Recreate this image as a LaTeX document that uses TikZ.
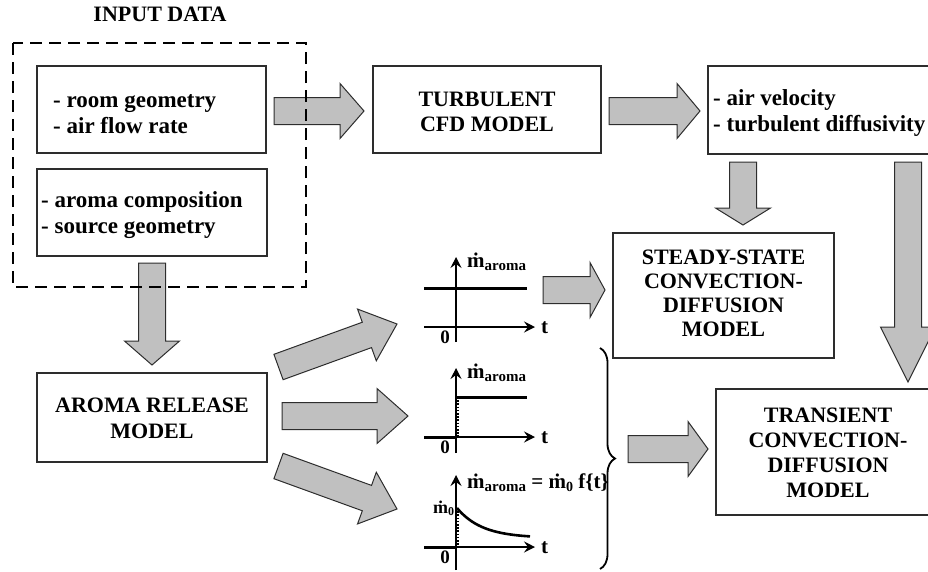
\documentclass[tikz,border=0pt]{standalone}
\usepackage{fontspec}
\setmainfont{Liberation Serif}
\usetikzlibrary{calc,decorations.pathreplacing,arrows.meta}
\definecolor{arrowgray}{RGB}{192,192,192}
\definecolor{edgegray}{RGB}{45,45,45}
\newcommand{\mdot}{\.{m}}
\begin{document}
\begin{tikzpicture}[x=1pt,y=-1pt,
  box/.style={draw=edgegray, line width=1.1pt, fill=white, inner sep=0pt},
  lbl/.style={font=\fontsize{22}{25}\selectfont\bfseries, inner sep=0pt},
  lbll/.style={lbl, align=left, font=\fontsize{23}{26}\selectfont\bfseries},
  lblc/.style={lbl, align=center},
  glbl/.style={font=\fontsize{21}{21}\selectfont\bfseries, inner sep=0pt, anchor=base west},
  axis/.style={line width=1.3pt, -{Stealth[length=11pt,width=11pt,inset=4pt]}},
  thick line/.style={line width=3pt},
  dotline/.style={line width=2pt, dash pattern=on 1.6pt off 1.6pt},
  fat/.style={fill=arrowgray, draw=edgegray, line width=1pt, line join=miter,
    to path={let \p1=(\tikztostart), \p2=(\tikztotarget),
      \n1={atan2(\y2-\y1,\x2-\x1)}, \n2={veclen(\x2-\x1,\y2-\y1)-#1} in
      ($(\p1)+(\n1+90:13.5pt)$) -- ($(\p1)+(\n1:\n2)+(\n1+90:13.5pt)$)
      -- ($(\p1)+(\n1:\n2)+(\n1+90:27.5pt)$) -- (\p2)
      -- ($(\p1)+(\n1:\n2)+(\n1-90:27.5pt)$) -- ($(\p1)+(\n1:\n2)+(\n1-90:13.5pt)$)
      -- ($(\p1)+(\n1-90:13.5pt)$) -- cycle}}
]
\useasboundingbox (0,0) rectangle (928,571);

% ---------- boxes ----------
\node[box, minimum width=229pt, minimum height=87pt] (room) at (151.5,109.5) {};
\node[box, minimum width=230pt, minimum height=87pt] (src) at (152,212.5) {};
\node[box, minimum width=228pt, minimum height=87pt] (cfd) at (487,109.5) {};
\node[box, minimum width=232pt, minimum height=88pt] (vel) at (824,110) {};
\node[box, minimum width=221pt, minimum height=125pt] (steady) at (723.5,295.5) {};
\node[box, minimum width=224pt, minimum height=126pt] (trans) at (828,452) {};
\node[box, minimum width=230pt, minimum height=89pt] (release) at (152,417.5) {};

% ---------- texts ----------
\node[lblc] (title) at (160,14.7) {INPUT DATA};
\node[lbll, anchor=west] (roomtxt) at (53,114.5) {- room geometry\\- air flow rate};
\node[lbll, anchor=west] (srctxt) at (41,215.5) {- aroma composition\\- source geometry};
\node[lblc] (cfdtxt) at (487,112.2) {TURBULENT\\CFD MODEL};
\node[lbll, anchor=west] (veltxt) at (713,113) {- air velocity\\- turbulent diffusivity};
\node[lblc, font=\fontsize{22}{24}\selectfont\bfseries] (steadytxt) at (723.5,293.7) {STEADY-STATE\\CONVECTION-\\DIFFUSION\\MODEL};
\node[lblc] (transtxt) at (828,453.2) {TRANSIENT\\CONVECTION-\\DIFFUSION\\MODEL};
\node[lblc, font=\fontsize{22}{26}\selectfont\bfseries] (reltxt) at (152,418.7) {AROMA RELEASE\\MODEL};

% ---------- fat arrow end points ----------
\coordinate (a1s) at (274,111);  \coordinate (a1e) at (364,111);
\coordinate (a2s) at (609,111);  \coordinate (a2e) at (700,111);
\coordinate (a3s) at (743,162);  \coordinate (a3e) at (743,225);
\coordinate (a4s) at (908,162);  \coordinate (a4e) at (908,382);
\coordinate (a5s) at (152,263);  \coordinate (a5e) at (152,365);
\coordinate (a6s) at (278.5,367);\coordinate (a6e) at (397,324);
\coordinate (a7s) at (282,416);  \coordinate (a7e) at (408,416);
\coordinate (a8s) at (278.5,466);\coordinate (a8e) at (397,509);
\coordinate (a9s) at (543,290);  \coordinate (a9e) at (605,290);
\coordinate (a10s) at (628,449); \coordinate (a10e) at (708,449);

\draw[fat=24] (a1s) to (a1e);
\draw[fat=23] (a2s) to (a2e);
\draw[fat=17] (a3s) to (a3e);
\draw[fat=55] (a4s) to (a4e);
\draw[fat=24] (a5s) to (a5e);
\draw[fat=32] (a6s) to (a6e);
\draw[fat=31] (a7s) to (a7e);
\draw[fat=32] (a8s) to (a8e);
\draw[fat=15] (a9s) to (a9e);
\draw[fat=20] (a10s) to (a10e);

% ---------- dashed input frame ----------
\draw[line width=2.7pt, dash pattern=on 12pt off 7pt] (13,43) rectangle (306,287);

% ---------- graph 1 ----------
\coordinate (g1o) at (456,342); \coordinate (g1top) at (456,257);
\coordinate (g1l) at (424,327);  \coordinate (g1r) at (535,327);
\coordinate (g1a) at (424,288);  \coordinate (g1b) at (527,288);
\draw[axis] (g1o) -- (g1top);
\draw[axis] (g1l) -- (g1r);
\draw[thick line] (g1a) -- (g1b);
\node[glbl] (g1m) at (467,267) {\mdot\raisebox{-3pt}{\fontsize{15}{15}\selectfont aroma}};
\node[glbl] (g1t) at (541,333) {t};
\node[glbl, font=\fontsize{19}{19}\selectfont\bfseries, anchor=base] (g1z) at (445,343) {0};

% ---------- graph 2 ----------
\coordinate (g2o) at (456,453); \coordinate (g2top) at (456,368);
\coordinate (g2l) at (424,437);  \coordinate (g2r) at (535,437);
\coordinate (g2z) at (456,437);
\coordinate (g2a) at (456,397);  \coordinate (g2b) at (527,397);
\coordinate (g2d) at (457.5,397); \coordinate (g2e) at (457.5,437);
\draw[axis] (g2o) -- (g2top);
\draw[axis] (g2l) -- (g2r);
\draw[thick line] (g2l) -- (g2z);
\draw[thick line] (g2a) -- (g2b);
\draw[dotline] (g2d) -- (g2e);
\node[glbl] (g2m) at (467,378) {\mdot\raisebox{-3pt}{\fontsize{15}{15}\selectfont aroma}};
\node[glbl] (g2t) at (541,443) {t};
\node[glbl, font=\fontsize{19}{19}\selectfont\bfseries, anchor=base] (g2zl) at (445,453) {0};

% ---------- graph 3 ----------
\coordinate (g3o) at (456,570); \coordinate (g3top) at (456,475);
\coordinate (g3l) at (424,547);  \coordinate (g3r) at (535,547);
\coordinate (g3z) at (456,547);
\coordinate (g3d) at (457.5,508); \coordinate (g3e) at (457.5,547);
\draw[axis] (g3o) -- (g3top);
\draw[axis] (g3l) -- (g3r);
\draw[thick line] (g3l) -- (g3z);
\draw[dotline] (g3d) -- (g3e);
\draw[line width=2.6pt, domain=457:530, samples=40, smooth] plot (\x,{538-30*exp(-(\x-457)/25)});
\node[glbl] (g3m) at (467,488) {\mdot\raisebox{-3pt}{\fontsize{15}{15}\selectfont aroma} = \mdot\raisebox{-3pt}{\fontsize{14}{14}\selectfont 0} f\{t\}};
\node[glbl, font=\fontsize{18}{18}\selectfont\bfseries] (g3m0) at (433,513) {\mdot\raisebox{-2pt}{\fontsize{12}{12}\selectfont 0}};
\node[glbl] (g3t) at (541,553) {t};
\node[glbl, font=\fontsize{19}{19}\selectfont\bfseries, anchor=base] (g3zl) at (445,563) {0};

% ---------- brace ----------
\coordinate (bt) at (600,348); \coordinate (bb) at (600,569);
\draw[line width=1.8pt, decorate, decoration={brace, amplitude=15pt}] (bt) -- (bb);
\end{tikzpicture}
\end{document}
